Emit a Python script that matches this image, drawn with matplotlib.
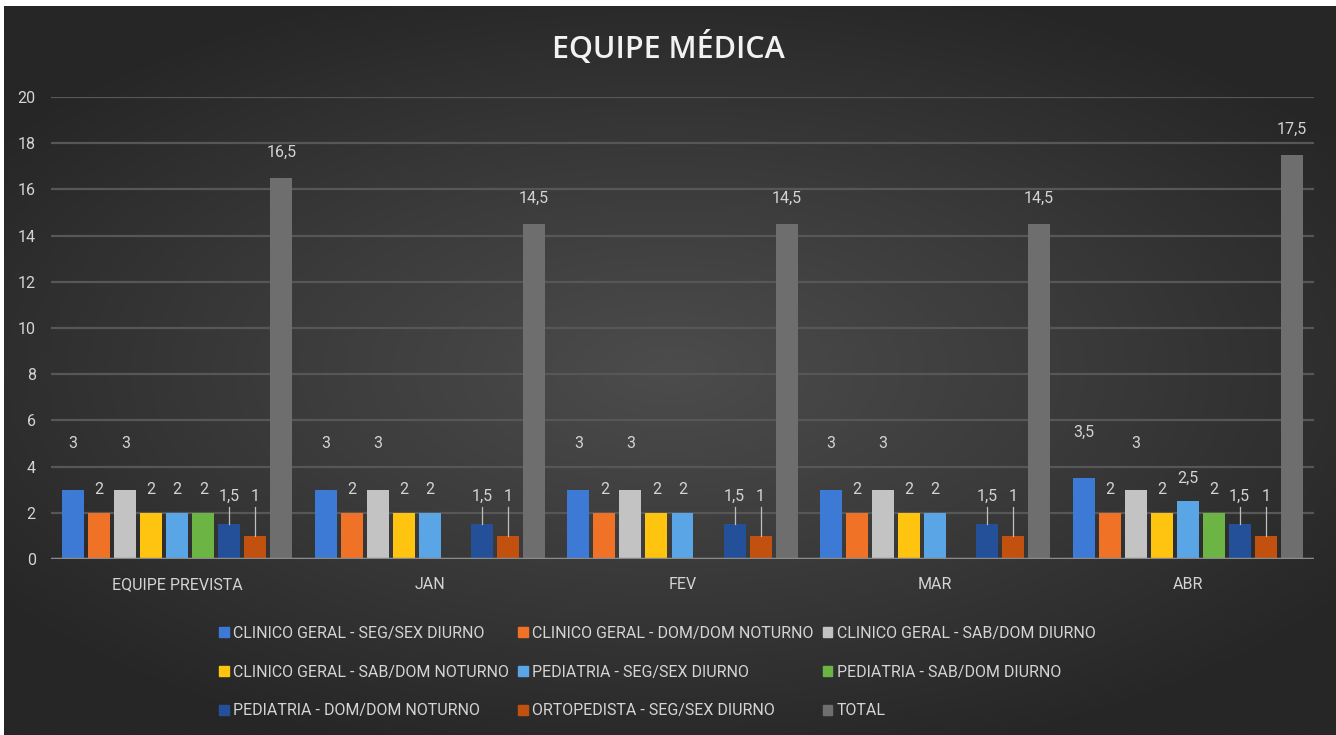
import numpy as np
import matplotlib.pyplot as plt
from matplotlib.patches import Patch
from matplotlib.colors import LinearSegmentedColormap

categories = ['EQUIPE PREVISTA', 'JAN', 'FEV', 'MAR', 'ABR']
series = ['CLINICO GERAL - SEG/SEX DIURNO', 'CLINICO GERAL - DOM/DOM NOTURNO',
          'CLINICO GERAL - SAB/DOM DIURNO', 'CLINICO GERAL - SAB/DOM NOTURNO',
          'PEDIATRIA - SEG/SEX DIURNO', 'PEDIATRIA - SAB/DOM DIURNO',
          'PEDIATRIA - DOM/DOM NOTURNO', 'ORTOPEDISTA - SEG/SEX DIURNO', 'TOTAL']
# one list per series, values for each category (None = no bar)
cg_seg_diurno = [3, 3, 3, 3, 3.5]
cg_dom_noturno = [2, 2, 2, 2, 2]
cg_sab_diurno = [3, 3, 3, 3, 3]
cg_sab_noturno = [2, 2, 2, 2, 2]
ped_seg_diurno = [2, 2, 2, 2, 2.5]
ped_sab_diurno = [2, None, None, None, 2]
ped_dom_noturno = [1.5, 1.5, 1.5, 1.5, 1.5]
orto_seg_diurno = [1, 1, 1, 1, 1]
total = [16.5, 14.5, 14.5, 14.5, 17.5]
values = [cg_seg_diurno, cg_dom_noturno, cg_sab_diurno, cg_sab_noturno,
          ped_seg_diurno, ped_sab_diurno, ped_dom_noturno, orto_seg_diurno, total]

colors = ['#3d7ad6', '#f07226', '#c3c3c3', '#ffc410', '#5aa5e6',
          '#6cb544', '#24509a', '#c2500e', '#6e6e6e']
# label centre distance above bar (data units) per series, leader line yes/no
label_pad = [2.0, 1.0, 2.0, 1.0, 1.0, 1.0, 1.2, 1.7, 1.1]
leader = [False, False, False, False, False, False, True, True, False]

txt = '#d4d4d4'
font = ['Roboto', 'DejaVu Sans']

fig = plt.figure(figsize=(13.36, 7.35), dpi=100, facecolor='white')

# radial gradient background (white strip top/left like the screenshot)
bg_cmap = LinearSegmentedColormap.from_list('bg', ['#4c4c4c', '#3a3a3a', '#262626'])
bg = fig.add_axes([4 / 1336, 0, 1 - 4 / 1336, 1 - 6 / 735], zorder=-5)
yy, xx = np.mgrid[-1:1:300j, -1:1:500j]
r = np.sqrt(xx ** 2 + (yy / 0.9) ** 2)
bg.imshow(np.clip(r, 0, 1.25), cmap=bg_cmap, vmin=0, vmax=1.25, aspect='auto',
          extent=[0, 1, 0, 1], interpolation='bilinear')
bg.set_axis_off()

ax = fig.add_axes([51 / 1336, 1 - 559 / 735, 1263 / 1336, 462 / 735])
ax.set_facecolor('none')

n = len(series)
step = 0.103
width = 0.087
x = np.arange(len(categories))
for i, (vals, c) in enumerate(zip(values, colors)):
    xs = x + (i - (n - 1) / 2) * step
    for xi, v in zip(xs, vals):
        if v is None:
            continue
        ax.bar(xi, v, width=width, color=c, zorder=3)
        ly = v + label_pad[i]
        if leader[i]:
            ax.plot([xi, xi], [v, ly - 0.45], color='#bfbfbf', lw=0.9, zorder=4)
        ax.text(xi, ly, f'{v:g}'.replace('.', ','), ha='center', va='center',
                color=txt, fontsize=11.5, family=font, zorder=5)

ax.set_xlim(-0.5, len(categories) - 0.5)
ax.set_ylim(0, 20)
ax.set_yticks(range(0, 21, 2))
ax.yaxis.grid(True, color='#575757', lw=1.6, zorder=0)
ax.axhline(0, color='#8a8a8a', lw=2.5, zorder=4)
for s in ax.spines.values():
    s.set_visible(False)
ax.tick_params(length=0, colors=txt, labelsize=11.5)
ax.tick_params(axis='y', pad=11)
ax.tick_params(axis='x', pad=13)
ax.set_xticks(x)
ax.set_xticklabels(categories)
for lab in ax.get_xticklabels() + ax.get_yticklabels():
    lab.set_family(font)

fig.text(0.5, 1 - 48 / 735, 'EQUIPE MÉDICA', ha='center', va='center',
         color='#f2f2f2', fontsize=22, family=['Open Sans', 'DejaVu Sans'],
         fontweight='semibold')

handles = [Patch(color=c, label=s) for c, s in zip(colors, series)]
order = [0, 3, 6, 1, 4, 7, 2, 5, 8]
leg = fig.legend([handles[k] for k in order], [series[k] for k in order],
                 ncol=3, loc='center', bbox_to_anchor=(0.492, 1 - 672 / 735),
                 frameon=False, handlelength=0.6, handleheight=0.6,
                 handletextpad=0.3, columnspacing=0.55, labelspacing=1.5,
                 prop={'family': font, 'size': 11.5})
for t in leg.get_texts():
    t.set_color(txt)

fig.savefig('out.png', dpi=100, facecolor=fig.get_facecolor())
